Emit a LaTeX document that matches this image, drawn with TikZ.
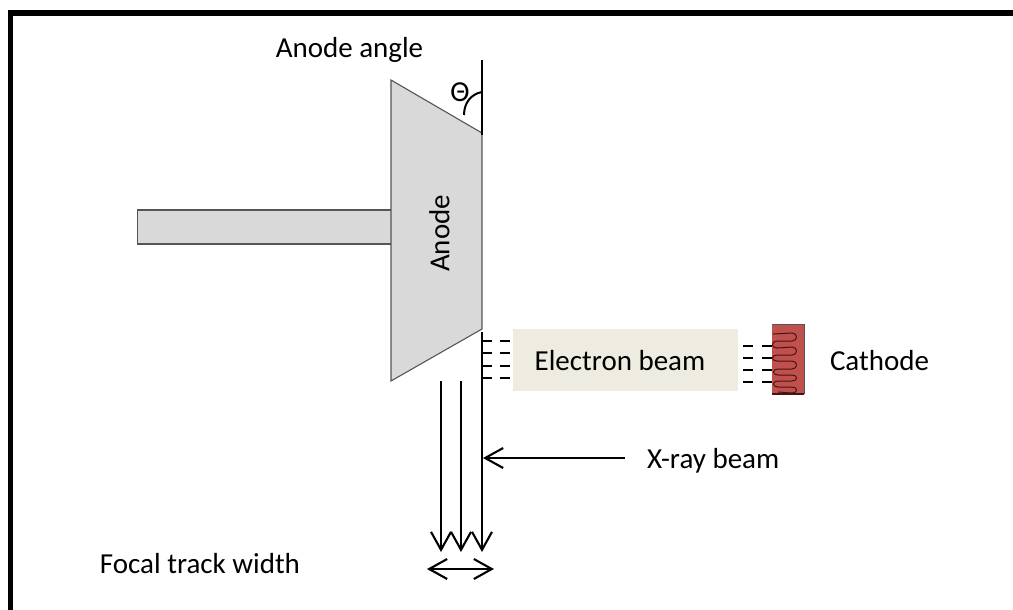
\documentclass[tikz,border=0pt]{standalone}
\usepackage{fontspec}
\setmainfont{Carlito}
\usetikzlibrary{arrows.meta}
\definecolor{bodygray}{RGB}{217,217,217}
\definecolor{edgegray}{RGB}{85,85,85}
\definecolor{beamfill}{RGB}{238,236,225}
\definecolor{cathfill}{RGB}{192,80,77}
\definecolor{wirecol}{RGB}{70,20,20}
\tikzset{
 x=1pt,y=-1pt,
 lbl/.style={font=\fontsize{29}{34}\selectfont,text=black,inner sep=0pt},
 partshape/.style={fill=bodygray,draw=edgegray,line width=1.1pt},
 ray/.style={draw=black,line width=2.1pt,-{Straight Barb[length=18pt,width=20pt,line width=2.1pt]}},
 dashln/.style={draw=black,line width=2.7pt,dash pattern=on 10pt off 8pt},
 dashlnb/.style={draw=black,line width=2.7pt,dash pattern=on 10pt off 9pt},
 heavy/.style={draw=black,line width=2.8pt}
}
\begin{document}
\begin{tikzpicture}
\useasboundingbox (0,0) rectangle (1013,610);
\coordinate (bl) at (10.5,610);
\coordinate (tl) at (10.5,13);
\coordinate (tr) at (1013,13);
\draw[black,line width=5.5pt,line join=miter] (bl) -- (tl) -- (tr);
% anode
\node[partshape,minimum width=254pt,minimum height=34pt,inner sep=0pt] (shaft) at (264.5,227) {};
\path[partshape] (391,80) -- (482,133) -- (482,329) -- (391,381) -- cycle;
\coordinate (anodeface) at (482,135);
\node[lbl,rotate=90] (anode) at (439.5,233.5) {Anode};
% angle
\coordinate (vtop) at (482,60);
\draw[heavy] (vtop) -- (anodeface);
\coordinate (arcstart) at (464,115);
\coordinate (arcend) at (482,92);
\draw[black,line width=2pt] (arcstart) .. controls (464,103) and (471,94) .. (arcend);
\node[lbl] (theta) at (460,92) {Θ};
\node[lbl] (angle) at (349.5,49.5) {Anode angle};
% electron beam
\node[fill=beamfill,minimum width=225pt,minimum height=62pt,inner sep=0pt] (beam) at (625.5,360) {};
\node[lbl] (beamtxt) at (620,361) {Electron beam};
% cathode
\node[fill=cathfill,minimum width=32pt,minimum height=70pt,inner sep=0pt] (cathode) at (788,359.3) {};
\draw[wirecol,line width=1pt] (773,334) -- (792,333)
 .. controls (798,333) and (798,341) .. (792,341) -- (777,341)
 .. controls (771,341) and (771,348) .. (777,348) -- (792,347)
 .. controls (798,347) and (798,355) .. (792,355) -- (777,355)
 .. controls (771,355) and (771,361) .. (777,361) -- (792,361)
 .. controls (798,361) and (798,369) .. (792,369) -- (778,369)
 .. controls (772,369) and (772,375) .. (778,375) -- (792,375)
 .. controls (798,375) and (798,381) .. (792,381) -- (778,381)
 .. controls (772,381) and (772,387) .. (778,387) -- (792,387)
 .. controls (798,387) and (798,393) .. (792,393) -- (778,392);
\draw[edgegray,line width=1pt] (772,324) -- (804,324);
\draw[wirecol,line width=1.2pt] (772,394) -- (804,394);
\draw[edgegray,line width=0.7pt] (804,324) -- (804,394);
\node[lbl] (cathtxt) at (879.5,361) {Cathode};
% dashes
\foreach \yy in {341,353,366,378}{
 \coordinate (l\yy) at (482,\yy);
 \coordinate (r\yy) at (511,\yy);
 \draw[dashln] (l\yy) -- (r\yy);
}
\foreach \yy in {346,358,370,382}{
 \coordinate (a\yy) at (743,\yy);
 \coordinate (b\yy) at (772,\yy);
 \draw[dashlnb] (a\yy) -- (b\yy);
}
\coordinate (stub) at (482,332);
\coordinate (xtop) at (482,552);
\draw[ray] (stub) -- (xtop);
% x-ray beams
\coordinate (t1) at (441,381);
\coordinate (b1) at (441,552);
\coordinate (t2) at (461,381);
\coordinate (b2) at (461,552);
\draw[ray] (t1) -- (b1);
\draw[ray] (t2) -- (b2);
% labels with arrows
\node[lbl,anchor=west] (xray) at (647,461) {X-ray beam};
\coordinate (xrayend) at (625,458);
\coordinate (xraytip) at (483,458);
\draw[ray] (xrayend) -- (xraytip);
\node[lbl] (focal) at (200,563.5) {Focal track width};
\coordinate (fl) at (427,569);
\coordinate (fr) at (494,569);
\draw[draw=black,line width=2.1pt,{Straight Barb[length=18pt,width=20pt,line width=2.1pt]}-{Straight Barb[length=18pt,width=20pt,line width=2.1pt]}] (fl) -- (fr);
\end{tikzpicture}
\end{document}
